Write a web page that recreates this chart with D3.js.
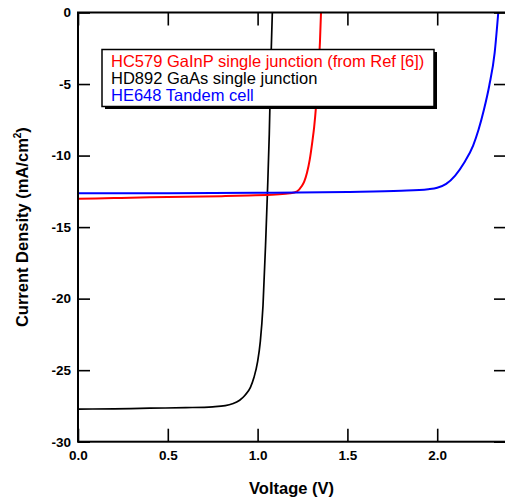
<!DOCTYPE html>
<html>
<head>
<meta charset="utf-8">
<script src="https://cdn.jsdelivr.net/npm/d3@7"></script>
<style>
  body { margin: 0; background: #fff; }
  svg { display: block; font-family: "Liberation Sans", Arial, Helvetica, sans-serif; }
</style>
</head>
<body>
<div id="chart"></div>
<script>
var width = 505, height = 497;

// voltage (V) / current density (mA/cm2)
var gaasV = [0, 0.2, 0.4, 0.6, 0.75, 0.82, 0.86, 0.9, 0.93, 0.96, 0.98, 1.0, 1.015, 1.03, 1.045, 1.055, 1.065, 1.075, 1.082];
var gaasJ = [-27.72, -27.7, -27.66, -27.62, -27.56, -27.48, -27.35, -27.1, -26.75, -26.2, -25.5, -24.4, -23.0, -20.5, -16.0, -12.5, -8.5, -3.0, 0];

var gainpV = [0, 0.2, 0.4, 0.6, 0.8, 0.95, 1.1, 1.18, 1.22, 1.245, 1.26, 1.275, 1.29, 1.305, 1.315, 1.325, 1.337, 1.347, 1.353];
var gainpJ = [-13.02, -12.97, -12.92, -12.88, -12.84, -12.79, -12.72, -12.64, -12.5, -12.15, -11.8, -11.2, -10.3, -9.0, -8.0, -6.6, -4.3, -2.1, 0];

var tandemV = [0, 0.5, 1.0, 1.5, 1.8, 1.95, 2.0, 2.05, 2.1, 2.15, 2.2, 2.23, 2.26, 2.29, 2.32, 2.34];
var tandemJ = [-12.64, -12.63, -12.6, -12.54, -12.46, -12.35, -12.25, -11.98, -11.4, -10.5, -9.3, -8.2, -6.8, -5.1, -2.8, 0];

var legendLabels = ["HC579 GaInP single junction (from Ref [6])", "HD892 GaAs single junction", "HE648 Tandem cell"];

var xTicks = [0, 0.5, 1.0, 1.5, 2.0];
var yTicks = [0, -5, -10, -15, -20, -25, -30];

var pLeft = 78, pRight = 506, pTop = 12.5, pBottom = 441.7;

var x = d3.scaleLinear().domain([0, 2.383]).range([pLeft, pRight]);
var y = d3.scaleLinear().domain([-30, 0]).range([pBottom, pTop]);

var svg = d3.select('#chart').append('svg')
    .attr('width', width)
    .attr('height', height);

var line = d3.line()
    .x(function(d) { return x(d[0]); })
    .y(function(d) { return y(d[1]); })
    .curve(d3.curveMonotoneX);

var series = [
    {v: gaasV, j: gaasJ, color: "#000000", w: 1.7},
    {v: gainpV, j: gainpJ, color: "#ff0000", w: 2},
    {v: tandemV, j: tandemJ, color: "#0000ff", w: 2}
];

series.forEach(function(s) {
    svg.append("path")
        .datum(d3.zip(s.v, s.j))
        .attr("fill", "none")
        .attr("stroke", s.color)
        .attr("stroke-width", s.w)
        .attr("d", line);
});

// legend box with drop shadow
var lg = svg.append("g");
lg.append("rect")
    .attr("x", 105).attr("y", 52).attr("width", 332).attr("height", 57)
    .attr("fill", "#000");
lg.append("rect")
    .attr("x", 102).attr("y", 49.5).attr("width", 332).attr("height", 57)
    .attr("fill", "#fff").attr("stroke", "#000").attr("stroke-width", 1.5);

lg.selectAll("text")
    .data(legendLabels)
    .enter().append("text")
    .attr("x", 111)
    .attr("y", function(d, i) { return 66.5 + i * 17; })
    .attr("font-size", "16.5px")
    .attr("fill", function(d, i) { return series[[1, 0, 2][i]].color; })
    .text(function(d) { return d; });

// axes, ticks pointing inward
var tickStyle = function(g) {
    g.select(".domain").remove();
    g.selectAll(".tick line").attr("stroke", "#000").attr("stroke-width", 1.6);
    g.selectAll("text").attr("font-size", "13.5px").attr("font-weight", "bold").attr("fill", "#000");
};

svg.append("g")
    .attr("transform", "translate(" + pLeft + ",0)")
    .call(d3.axisLeft(y).tickValues(yTicks).tickSize(-12).tickPadding(7).tickFormat(function(d) { return String(d); }))
    .call(tickStyle);

svg.append("g")
    .attr("transform", "translate(0," + pBottom + ")")
    .call(d3.axisBottom(x).tickValues(xTicks).tickSize(-13).tickPadding(9).tickFormat(d3.format(".1f")))
    .call(tickStyle);

svg.append("g")
    .attr("transform", "translate(" + pRight + ",0)")
    .call(d3.axisRight(y).tickValues(yTicks).tickSize(-12).tickFormat(""))
    .call(tickStyle);

svg.append("g")
    .attr("transform", "translate(0," + pTop + ")")
    .call(d3.axisTop(x).tickValues(xTicks).tickSize(-13).tickFormat(""))
    .call(tickStyle);

svg.append("rect")
    .attr("x", pLeft).attr("y", pTop)
    .attr("width", pRight - pLeft).attr("height", pBottom - pTop)
    .attr("fill", "none").attr("stroke", "#000").attr("stroke-width", 2);

// titles
svg.append("text")
    .attr("x", (pLeft + 505) / 2)
    .attr("y", 494)
    .attr("text-anchor", "middle")
    .attr("font-size", "16.5px")
    .attr("font-weight", "bold")
    .text("Voltage (V)");

var yt = svg.append("text")
    .attr("transform", "translate(28," + ((pTop + pBottom) / 2) + ") rotate(-90)")
    .attr("text-anchor", "middle")
    .attr("font-size", "16.5px")
    .attr("font-weight", "bold");
yt.append("tspan").text("Current Density (mA/cm");
yt.append("tspan").attr("font-size", "10px").attr("dy", "-7").text("2");
yt.append("tspan").attr("dy", "7").text(")");
</script>
</body>
</html>
